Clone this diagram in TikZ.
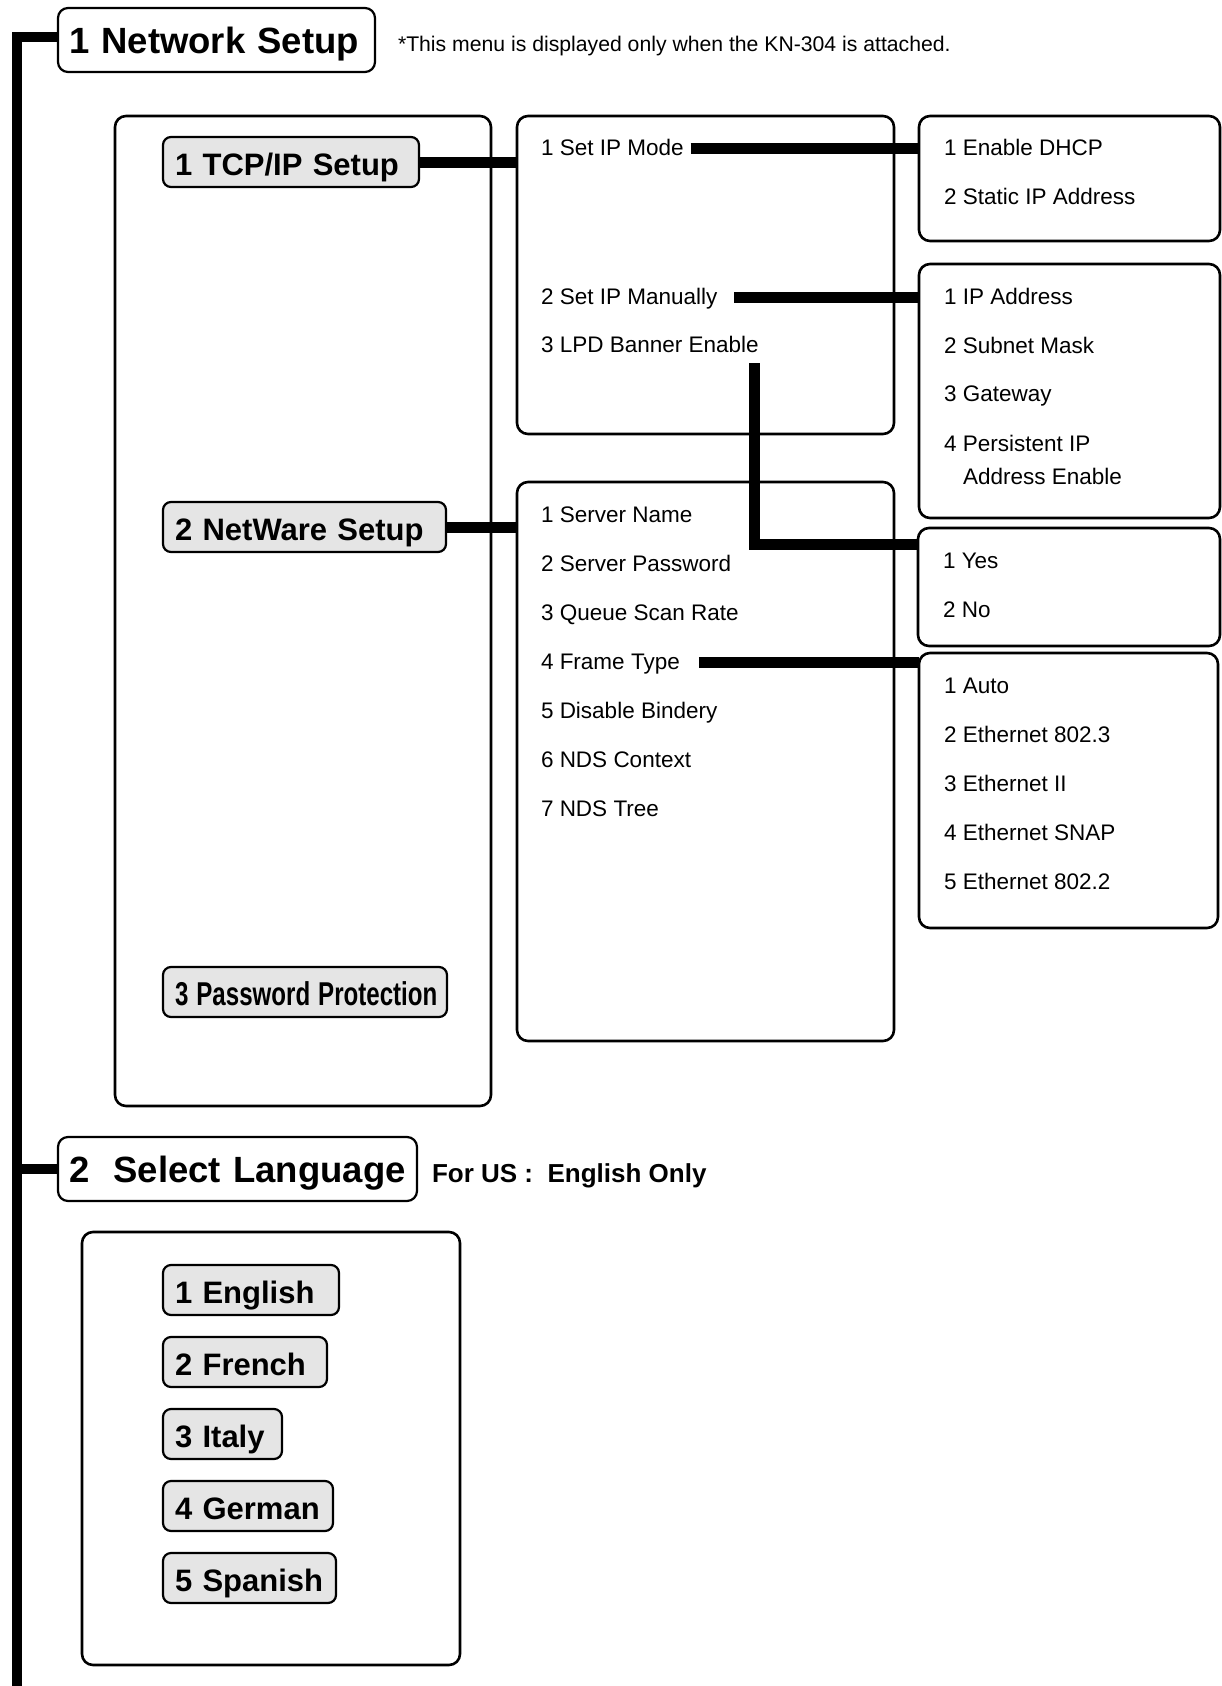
\documentclass[tikz,border=0pt]{standalone}
\usepackage{fontspec}
\setmainfont{Liberation Sans}
\usepackage{graphicx}
\usepackage{xcolor}
\usetikzlibrary{positioning}

\definecolor{btngray}{gray}{0.9}

\begin{document}
\begin{tikzpicture}[x=1pt, y=-1pt,
  menuframe/.style={draw, line width=2.6pt, rounded corners=11pt, inner sep=0pt, outer sep=0pt, anchor=north west},
  headbox/.style={draw, line width=2.2pt, rounded corners=10pt, outer sep=0pt, inner xsep=11pt, inner ysep=19pt,
                  text height=26pt, text depth=0pt, align=left, anchor=north west,
                  font=\bfseries\fontsize{36.5}{40}\selectfont},
  menubtn/.style={draw, line width=2.2pt, rounded corners=8pt, fill=btngray, outer sep=0pt, inner xsep=12pt, inner ysep=4pt,
                  text height=34.5pt, text depth=7.5pt, align=left, anchor=north west,
                  font=\bfseries\fontsize{31}{36}\selectfont},
  item/.style={inner sep=0pt, outer sep=0pt, text height=18pt, text depth=4pt, anchor=base west,
               font=\fontsize{22.5}{27}\selectfont},
  link/.style={line width=11pt},
  rail/.style={line width=10pt}]
  \path[use as bounding box, fill=white] (0,0) rectangle (1221,1686);

  % top level menus
  \node[headbox, text width=295pt] (netsetup) at (58,8) {1 Network Setup};
  \node[item, font=\fontsize{21.2}{25}\selectfont] (note) at (398,52)
        {*This menu is displayed only when the KN-304 is attached.};
  \node[headbox, text width=337pt] (sellang) at (58,1137) {2\ \ Select Language};
  \node[item, font=\bfseries\fontsize{26}{30}\selectfont] (usnote) at (432,1182) {For US :\ \ English Only};

  \coordinate (railfoot) at (16.5,1686);
  \draw[rail] (railfoot) |- ([yshift=3pt]netsetup.west);
  \draw[rail] (railfoot |- sellang.west) -- (sellang.west);

  % network setup submenus
  \node[menuframe, minimum width=376pt, minimum height=990pt] (tcpframe) at (115,116) {};
  \node[menubtn, text width=232pt] (tcpbtn) at (163,137) {1 TCP/IP Setup};
  \node[menubtn, text width=259pt] (netbtn) at (163,502) {2 NetWare Setup};
  \node[menubtn, text width=260pt, font=\bfseries\fontsize{33}{36}\selectfont] (pwbtn) at (163,967)
        {\scalebox{0.73}[1]{3 Password Protection}};

  % tcp/ip setup
  \node[menuframe, minimum width=377pt, minimum height=318pt] (modeframe) at (517,116) {};
  \node[item] (ipmode) at (541,155) {1 Set IP Mode};
  \node[item, below=149pt of ipmode.base west, anchor=base west] (ipmanual) {2 Set IP Manually};
  \node[item, below=48pt of ipmanual.base west, anchor=base west] (lpd) {3 LPD Banner Enable};

  \node[menuframe, minimum width=301pt, minimum height=125pt] (dhcpframe) at (919,116) {};
  \node[item] (dhcp1) at (944,155) {1 Enable DHCP};
  \node[item, below=49pt of dhcp1.base west, anchor=base west] (dhcp2) {2 Static IP Address};

  \node[menuframe, minimum width=301pt, minimum height=254pt] (ipframe) at (919,264) {};
  \node[item] (ipa1) at (944,304) {1 IP Address};
  \node[item, below=49pt of ipa1.base west, anchor=base west] (ipa2) {2 Subnet Mask};
  \node[item, below=48pt of ipa2.base west, anchor=base west] (ipa3) {3 Gateway};
  \node[item, below=50pt of ipa3.base west, anchor=base west] (ipa4) {4 Persistent IP};
  \node[item, below right=33pt and 19pt of ipa4.base west, anchor=base west] (ipa5) {Address Enable};

  \node[menuframe, minimum width=302pt, minimum height=118pt] (yesframe) at (918,528) {};
  \node[item] (yes1) at (943,568) {1 Yes};
  \node[item, below=49pt of yes1.base west, anchor=base west] (yes2) {2 No};

  % netware setup
  \node[menuframe, minimum width=377pt, minimum height=559pt] (netframe) at (517,482) {};
  \node[item] (srv1) at (541,522) {1 Server Name};
  \node[item, below=49pt of srv1.base west, anchor=base west] (srv2) {2 Server Password};
  \node[item, below=49pt of srv2.base west, anchor=base west] (srv3) {3 Queue Scan Rate};
  \node[item, below=49pt of srv3.base west, anchor=base west] (srv4) {4 Frame Type};
  \node[item, below=49pt of srv4.base west, anchor=base west] (srv5) {5 Disable Bindery};
  \node[item, below=49pt of srv5.base west, anchor=base west] (srv6) {6 NDS Context};
  \node[item, below=49pt of srv6.base west, anchor=base west] (srv7) {7 NDS Tree};

  \node[menuframe, minimum width=299pt, minimum height=275pt] (ftframe) at (919,653) {};
  \node[item] (ft1) at (944,693) {1 Auto};
  \node[item, below=49pt of ft1.base west, anchor=base west] (ft2) {2 Ethernet 802.3};
  \node[item, below=49pt of ft2.base west, anchor=base west] (ft3) {3 Ethernet II};
  \node[item, below=49pt of ft3.base west, anchor=base west] (ft4) {4 Ethernet SNAP};
  \node[item, below=49pt of ft4.base west, anchor=base west] (ft5) {5 Ethernet 802.2};

  % connectors
  \draw[link] (tcpbtn.east) -- (tcpbtn.east -| modeframe.west);
  \draw[link] (netbtn.east) -- (netbtn.east -| netframe.west);
  \draw[link, shorten <=7pt] (ipmode.east) -- (ipmode.east -| dhcpframe.west);
  \draw[link, shorten <=17pt] (ipmanual.east) -- (ipmanual.east -| ipframe.west);
  \draw[link] ([xshift=-4.5pt,yshift=-7pt]lpd.south east) |- ([yshift=-16.5pt]yesframe.north west);
  \draw[link, shorten <=19pt] (srv4.east) -- (srv4.east -| ftframe.west);

  % languages
  \node[menuframe, minimum width=378pt, minimum height=433pt] (langframe) at (82,1232) {};
  \node[menubtn, text width=152pt] (eng) at (163,1265) {1 English};
  \node[menubtn, text width=140pt, below=22pt of eng.south west, anchor=north west] (fre) {2 French};
  \node[menubtn, text width=95pt, below=22pt of fre.south west, anchor=north west] (ita) {3 Italy};
  \node[menubtn, text width=146pt, below=22pt of ita.south west, anchor=north west] (ger) {4 German};
  \node[menubtn, text width=149pt, below=22pt of ger.south west, anchor=north west] (spa) {5 Spanish};
\end{tikzpicture}
\end{document}
